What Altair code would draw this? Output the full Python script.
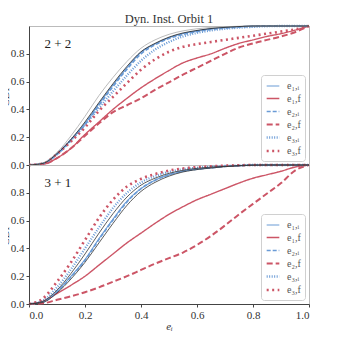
import altair as alt
import pandas as pd

# shared x grid (eccentricity)
X = [0.0, 0.05, 0.1, 0.15, 0.2, 0.25, 0.3, 0.35, 0.4, 0.45, 0.5,
     0.55, 0.6, 0.65, 0.7, 0.75, 0.8, 0.85, 0.9, 0.95, 1.0]

SERIES = ["e₁,ᵢ", "e₁,f", "e₂,ᵢ", "e₂,f", "e₃,ᵢ", "e₃,f"]

# ---- top panel (2 + 2) ----
E1I_TOP = [0, 0.01, 0.08, 0.18, 0.30, 0.44, 0.575, 0.70, 0.81, 0.87, 0.915, 0.945, 0.965, 0.98, 0.99, 0.995, 1, 1, 1, 1, 1]
E1F_TOP = [0, 0.005, 0.05, 0.12, 0.22, 0.31, 0.40, 0.48, 0.555, 0.62, 0.68, 0.735, 0.77, 0.80, 0.84, 0.875, 0.90, 0.925, 0.945, 0.97, 1.0]
E2I_TOP = [0, 0.01, 0.075, 0.175, 0.29, 0.43, 0.565, 0.69, 0.80, 0.865, 0.91, 0.94, 0.96, 0.975, 0.985, 0.992, 0.997, 1, 1, 1, 1]
E2F_TOP = [0, 0.005, 0.05, 0.12, 0.21, 0.30, 0.38, 0.43, 0.48, 0.54, 0.595, 0.65, 0.70, 0.75, 0.80, 0.845, 0.875, 0.90, 0.925, 0.955, 1.0]
E3I_TOP = [0, 0.012, 0.08, 0.18, 0.29, 0.41, 0.53, 0.645, 0.75, 0.83, 0.885, 0.925, 0.95, 0.968, 0.98, 0.988, 0.994, 0.998, 1, 1, 1]
E3F_TOP = [0, 0.01, 0.08, 0.17, 0.27, 0.39, 0.49, 0.59, 0.685, 0.76, 0.815, 0.85, 0.87, 0.885, 0.90, 0.915, 0.93, 0.945, 0.96, 0.975, 1.0]
BLACK_TOP = [0, 0.012, 0.082, 0.185, 0.31, 0.45, 0.585, 0.71, 0.815, 0.875, 0.92, 0.95, 0.968, 0.982, 0.99, 0.996, 1, 1, 1, 1, 1]
GRAY_TOP = [0, 0.015, 0.09, 0.21, 0.35, 0.50, 0.63, 0.745, 0.84, 0.90, 0.94, 0.965, 0.98, 0.99, 0.995, 0.998, 1, 1, 1, 1, 1]

# ---- bottom panel (3 + 1) ----
E1I_BOT = [0, 0.015, 0.09, 0.20, 0.32, 0.47, 0.61, 0.74, 0.83, 0.89, 0.93, 0.955, 0.97, 0.98, 0.99, 0.995, 1, 1, 1, 1, 1]
E1F_BOT = [0, 0.02, 0.075, 0.135, 0.20, 0.28, 0.36, 0.44, 0.51, 0.58, 0.645, 0.70, 0.75, 0.79, 0.83, 0.87, 0.905, 0.93, 0.955, 0.985, 1.0]
E2I_BOT = [0, 0.014, 0.088, 0.195, 0.315, 0.465, 0.605, 0.735, 0.83, 0.89, 0.93, 0.955, 0.97, 0.98, 0.99, 0.995, 1, 1, 1, 1, 1]
E2F_BOT = [0, 0.005, 0.03, 0.055, 0.085, 0.12, 0.16, 0.20, 0.245, 0.29, 0.33, 0.37, 0.425, 0.49, 0.565, 0.645, 0.72, 0.795, 0.87, 0.96, 1.0]
E3I_BOT = [0, 0.025, 0.12, 0.25, 0.40, 0.55, 0.69, 0.80, 0.875, 0.92, 0.95, 0.97, 0.98, 0.988, 0.993, 0.997, 1, 1, 1, 1, 1]
E3F_BOT = [0, 0.04, 0.16, 0.30, 0.46, 0.62, 0.75, 0.845, 0.90, 0.935, 0.96, 0.975, 0.985, 0.99, 0.995, 0.998, 1, 1, 1, 1, 1]
BLACK1_BOT = [0, 0.02, 0.10, 0.22, 0.36, 0.51, 0.65, 0.77, 0.855, 0.905, 0.94, 0.962, 0.976, 0.985, 0.99, 0.996, 1, 1, 1, 1, 1]
BLACK2_BOT = [0, 0.012, 0.08, 0.18, 0.30, 0.44, 0.58, 0.71, 0.81, 0.875, 0.92, 0.95, 0.967, 0.978, 0.988, 0.994, 0.998, 1, 1, 1, 1]

PANEL_LABELS = ["2 + 2", "3 + 1"]
TITLE = "Dyn. Inst. Orbit 1"
X_TICKS = [0, 0.2, 0.4, 0.6, 0.8, 1.0]
Y_TICKS = [0, 0.2, 0.4, 0.6, 0.8]

BLUE = "#6a9bd6"
RED = "#cc5566"
COLORS = [BLUE, RED, BLUE, RED, BLUE, RED]
DASHES = [[1, 0], [1, 0], [4, 2], [6, 3], [1, 1.5], [2, 3.5]]
WIDTHS = [1.1, 2.6, 1.1, 2.6, 1.1, 2.6]
FONT = "Liberation Serif"


def long_df(cols, names):
    rows = []
    for name, ys in zip(names, cols):
        for x, y in zip(X, ys):
            rows.append({"x": x, "y": y, "s": name})
    return pd.DataFrame(rows)


def panel(series_cols, ref_cols, ref_colors, label, show_x, title=None):
    df = long_df(series_cols, SERIES)
    xaxis = (alt.Axis(values=X_TICKS, format=".1f", title="eᵢ", labelOverlap=False)
             if show_x else alt.Axis(labels=False, ticks=False, title=None, labelPadding=0,
                                     minExtent=0, maxExtent=0))
    yaxis = alt.Axis(values=Y_TICKS, format=".1f", title="CDF", labelOverlap=False)
    leg = alt.Legend(title=None, orient="bottom-right", offset=4, symbolType="stroke",
                     symbolSize=160, labelFont=FONT, labelFontSize=10, labelColor="#555",
                     strokeColor="#d0d0d0", fillColor="white", padding=4, cornerRadius=3,
                     rowPadding=0, labelOffset=6, labelLimit=40)
    sx = alt.Scale(domain=[0, 1], nice=False)
    sy = alt.Scale(domain=[0, 1], nice=False)
    xs = alt.X("x:Q", scale=sx, axis=xaxis)
    ys = alt.Y("y:Q", scale=sy, axis=yaxis)
    lines = alt.Chart(df).mark_line(interpolate="monotone").encode(
        x=xs, y=ys,
        color=alt.Color("s:N", scale=alt.Scale(domain=SERIES, range=COLORS), legend=leg),
        strokeDash=alt.StrokeDash("s:N", scale=alt.Scale(domain=SERIES, range=DASHES), legend=leg),
        strokeWidth=alt.StrokeWidth("s:N", scale=alt.Scale(domain=SERIES, range=WIDTHS), legend=leg),
    )
    layers = [lines]
    for ys_ref, col in zip(ref_cols, ref_colors):
        rdf = pd.DataFrame({"x": X, "y": ys_ref})
        layers.append(alt.Chart(rdf).mark_line(interpolate="monotone", strokeWidth=0.8,
                                               color=col).encode(x=xs, y=ys))
    txt = alt.Chart(pd.DataFrame({"t": [label]})).mark_text(
        font=FONT, fontSize=13, align="left", baseline="middle", color="#222"
    ).encode(x=alt.datum(0.055, scale=sx, axis=xaxis),
             y=alt.datum(0.87, scale=sy, axis=yaxis),
             text="t:N")
    layers.append(txt)
    ch = alt.layer(*layers).properties(width=280, height=139)
    if title:
        ch = ch.properties(title=alt.Title(title, font=FONT, fontSize=12.5, fontWeight="normal",
                                           color="#333", offset=-5, frame="group",
                                           anchor="middle"))
    return ch


top = panel([E1I_TOP, E1F_TOP, E2I_TOP, E2F_TOP, E3I_TOP, E3F_TOP],
            [GRAY_TOP, BLACK_TOP], ["#aaaaaa", "#222222"], PANEL_LABELS[0], False, TITLE)
bot = panel([E1I_BOT, E1F_BOT, E2I_BOT, E2F_BOT, E3I_BOT, E3F_BOT],
            [BLACK1_BOT, BLACK2_BOT], ["#333333", "#333333"], PANEL_LABELS[1], True)

chart = alt.vconcat(top, bot, spacing=0, bounds="flush").resolve_scale(
    color="independent", strokeDash="independent", strokeWidth="independent"
).resolve_legend(
    color="independent", strokeDash="independent", strokeWidth="independent"
).properties(padding={"left": -10, "top": 4, "right": 0, "bottom": 0}
).configure_view(stroke="#bbbbbb", strokeWidth=1).configure_axis(
    labelFont=FONT, labelFontSize=11, labelColor="#333", titleFont=FONT, titleFontSize=11,
    titleFontWeight="normal", titleColor="#333", tickSize=3, tickColor="#444",
    domainColor="#444", grid=False, labelPadding=2, titlePadding=0
).configure_axisX(titleFontStyle="italic")

chart.save("out.html", embed_options={"renderer": "svg", "actions": False})
